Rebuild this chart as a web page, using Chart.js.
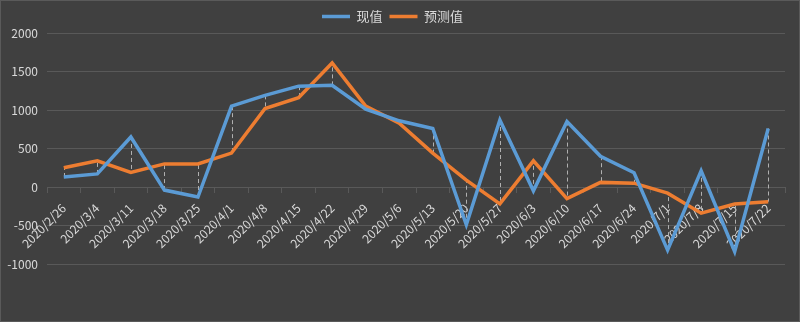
<!DOCTYPE html>
<html lang="zh">
<head>
  <meta charset="UTF-8">
  <title>现值与预测值</title>
  <script src="https://cdn.jsdelivr.net/npm/chart.js"></script>
  <style>
    html, body { margin: 0; padding: 0; background: #404040; }
    #wrap { width: 800px; height: 322px; }
  </style>
</head>
<body>
<div id="wrap"><canvas id="lineChart"></canvas></div>
<script>
  // weekly dates
  const dates = ['2020/2/26', '2020/3/4', '2020/3/11', '2020/3/18', '2020/3/25', '2020/4/1',
    '2020/4/8', '2020/4/15', '2020/4/22', '2020/4/29', '2020/5/6', '2020/5/13', '2020/5/20',
    '2020/5/27', '2020/6/3', '2020/6/10', '2020/6/17', '2020/6/24', '2020/7/1', '2020/7/8',
    '2020/7/15', '2020/7/22'];
  const actualValues = [130, 170, 650, -40, -130, 1050, 1190, 1310, 1320, 1010, 860, 760,
    -490, 870, -50, 850, 400, 185, -820, 210, -840, 760];
  const forecastValues = [250, 340, 190, 300, 300, 440, 1020, 1160, 1610, 1050, 830, 440,
    90, -220, 340, -150, 60, 50, -80, -340, -220, -190];
  const yTicks = [-1000, -500, 0, 500, 1000, 1500, 2000];

  const textColor = '#d9d9d9';
  const gridColor = '#595959';

  // background and frame
  const bgPlugin = {
    id: 'bg',
    beforeDraw(chart) {
      const ctx = chart.ctx;
      ctx.save();
      ctx.fillStyle = '#404040';
      ctx.fillRect(0, 0, chart.width, chart.height);
      ctx.strokeStyle = '#5a5a5a';
      ctx.lineWidth = 1;
      ctx.strokeRect(0.5, 0.5, chart.width - 1, chart.height - 1);
      ctx.restore();
    }
  };

  // dashed high-low lines between the two series
  const hiLoPlugin = {
    id: 'hiLo',
    beforeDatasetsDraw(chart) {
      const ctx = chart.ctx;
      const x = chart.scales.x;
      const y = chart.scales.y;
      ctx.save();
      ctx.strokeStyle = '#b0b0b0';
      ctx.lineWidth = 1;
      ctx.setLineDash([4, 3]);
      dates.forEach((d, i) => {
        const px = Math.round(x.getPixelForValue(i)) + 0.5;
        ctx.beginPath();
        ctx.moveTo(px, y.getPixelForValue(actualValues[i]));
        ctx.lineTo(px, y.getPixelForValue(forecastValues[i]));
        ctx.stroke();
      });
      ctx.restore();
    }
  };

  new Chart(document.getElementById('lineChart'), {
    type: 'line',
    data: {
      labels: dates,
      datasets: [{
        label: '现值',
        data: actualValues,
        borderColor: '#5b9bd5',
        backgroundColor: '#5b9bd5',
        borderWidth: 3.5,
        pointRadius: 0,
        tension: 0,
        fill: false
      }, {
        label: '预测值',
        data: forecastValues,
        borderColor: '#ed7d31',
        backgroundColor: '#ed7d31',
        borderWidth: 3.5,
        pointRadius: 0,
        tension: 0,
        fill: false
      }]
    },
    options: {
      responsive: true,
      maintainAspectRatio: false,
      animation: false,
      layout: {
        padding: { top: 3, right: 15, bottom: 58, left: 0 }
      },
      plugins: {
        legend: {
          position: 'top',
          labels: {
            color: textColor,
            font: { family: 'Noto Sans CJK SC', size: 13 },
            usePointStyle: true,
            pointStyle: 'line',
            pointStyleWidth: 28,
            padding: 7
          }
        },
        tooltip: { enabled: false }
      },
      scales: {
        x: {
          position: { y: 0 },
          offset: true,
          grid: {
            display: true,
            drawOnChartArea: false,
            drawTicks: true,
            tickLength: 5,
            offset: true,
            color: gridColor
          },
          border: { display: true, color: gridColor, width: 1 },
          ticks: {
            color: textColor,
            font: { family: 'Noto Sans CJK SC', size: 12 },
            autoSkip: false,
            minRotation: 45,
            maxRotation: 45,
            padding: 9
          }
        },
        y: {
          min: -1000,
          max: 2000,
          afterFit(scale) { scale.width = 47; },
          afterBuildTicks(scale) { scale.ticks = yTicks.map(v => ({ value: v })); },
          grid: { color: gridColor, drawTicks: false, lineWidth: 1 },
          border: { display: false },
          ticks: {
            color: textColor,
            font: { family: 'Noto Sans CJK SC', size: 12 },
            padding: 9,
            callback: v => String(v)
          }
        }
      }
    },
    plugins: [bgPlugin, hiLoPlugin]
  });
</script>
</body>
</html>
